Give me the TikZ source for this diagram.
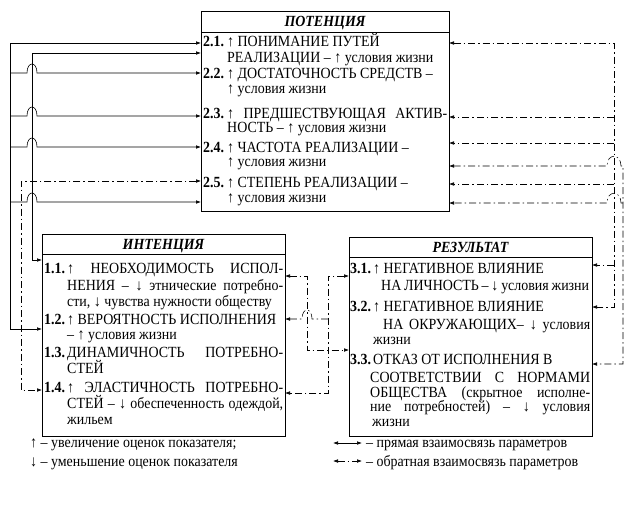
\documentclass[tikz,border=0pt]{standalone}
\usepackage{fontspec}
\setmainfont{Liberation Serif}[FakeStretch=0.9]
\usetikzlibrary{arrows.meta}
\tikzset{
  >={Latex[length=5pt,width=3.6pt]},
  boxframe/.style={draw, line width=0.7pt, inner sep=0pt, outer sep=0pt, anchor=north west},
  tl/.style={anchor=base west, inner sep=0pt, font=\fontsize{15.5}{16}\selectfont},
  nm/.style={anchor=base west, inner sep=0pt, font=\fontsize{15.5}{16}\selectfont\bfseries},
  hd/.style={anchor=base, inner sep=0pt, font=\fontsize{15.5}{16}\selectfont\bfseries\itshape},
  sl/.style={line width=0.6pt},
  dl/.style={line width=0.55pt, dash pattern=on 7pt off 3pt on 1.5pt off 3pt},
}
\newcommand{\jl}[2]{\makebox[#1pt][s]{#2}}
\begin{document}
\begin{tikzpicture}[x=1pt,y=-1pt]
\useasboundingbox (0,0) rectangle (637,504);
% boxes
\node[boxframe, minimum width=248pt, minimum height=200pt] (pot) at (201,11) {};
\node[boxframe, minimum width=243pt, minimum height=202pt] (int) at (42,234) {};
\node[boxframe, minimum width=243pt, minimum height=199pt] (res) at (349,237) {};
\draw[line width=0.7pt] (201,32) -- (449,32);
\draw[line width=0.7pt] (42,254) -- (285,254);
\draw[line width=0.7pt] (349,257) -- (592,257);
% headers
\node[hd] (hpot) at (325,26.5) {ПОТЕНЦИЯ};
\node[hd] (hint) at (163.5,249.5) {ИНТЕНЦИЯ};
\node[hd] (hres) at (470.5,252.5) {РЕЗУЛЬТАТ};
% ПОТЕНЦИЯ
\node[nm] (n21) at (203,46) {2.1.};
\node[tl] (t21a) at (227,46) {↑ ПОНИМАНИЕ ПУТЕЙ};
\node[tl] (t21b) at (227,62) {РЕАЛИЗАЦИИ – ↑ условия жизни};
\node[nm] (n22) at (203,78) {2.2.};
\node[tl] (t22a) at (227,78) {↑ ДОСТАТОЧНОСТЬ СРЕДСТВ –};
\node[tl] (t22b) at (227,93) {↑ условия жизни};
\node[nm] (n23) at (203,118) {2.3.};
\node[tl] (t23a) at (227,118) {\jl{220}{↑ ПРЕДШЕСТВУЮЩАЯ АКТИВ-}};
\node[tl] (t23b) at (227,132) {НОСТЬ – ↑ условия жизни};
\node[nm] (n24) at (203,152) {2.4.};
\node[tl] (t24a) at (227,152) {↑ ЧАСТОТА РЕАЛИЗАЦИИ –};
\node[tl] (t24b) at (227,166) {↑ условия жизни};
\node[nm] (n25) at (203,187) {2.5.};
\node[tl] (t25a) at (227,187) {↑ СТЕПЕНЬ РЕАЛИЗАЦИИ –};
\node[tl] (t25b) at (227,202) {↑ условия жизни};
% ИНТЕНЦИЯ
\node[nm] (n11) at (44,273) {1.1.};
\node[tl] (t11a) at (67,273) {\jl{216}{↑ НЕОБХОДИМОСТЬ ИСПОЛ-}};
\node[tl] (t11b) at (67,290) {\jl{216}{НЕНИЯ – ↓ этнические потребно-}};
\node[tl] (t11c) at (67,306) {сти, ↓ чувства нужности обществу};
\node[nm] (n12) at (44,324) {1.2.};
\node[tl] (t12a) at (67,324) {↑ ВЕРОЯТНОСТЬ ИСПОЛНЕНИЯ};
\node[tl] (t12b) at (67,339) {– ↑ условия жизни};
\node[nm] (n13) at (44,357) {1.3.};
\node[tl] (t13a) at (67,357) {\jl{216}{ДИНАМИЧНОСТЬ ПОТРЕБНО-}};
\node[tl] (t13b) at (67,373) {СТЕЙ};
\node[nm] (n14) at (44,392) {1.4.};
\node[tl] (t14a) at (67,392) {\jl{216}{↑ ЭЛАСТИЧНОСТЬ ПОТРЕБНО-}};
\node[tl] (t14b) at (67,408) {\jl{216}{СТЕЙ – ↓ обеспеченность одеждой,}};
\node[tl] (t14c) at (67,424) {жильем};
% РЕЗУЛЬТАТ
\node[nm] (n31) at (350,273) {3.1.};
\node[tl] (t31a) at (373,273) {↑ НЕГАТИВНОЕ ВЛИЯНИЕ};
\node[tl] (t31b) at (381,290) {\jl{208}{НА ЛИЧНОСТЬ – ↓ условия жизни}};
\node[nm] (n32) at (350,311) {3.2.};
\node[tl] (t32a) at (373,311) {↑ НЕГАТИВНОЕ ВЛИЯНИЕ};
\node[tl] (t32b) at (383,329) {\jl{207}{НА ОКРУЖАЮЩИХ– ↓ условия}};
\node[tl] (t32c) at (373,344) {жизни};
\node[nm] (n33) at (350,364) {3.3.};
\node[tl] (t33a) at (373,364) {ОТКАЗ ОТ ИСПОЛНЕНИЯ В};
\node[tl] (t33b) at (370,382) {\jl{220}{СООТВЕТСТВИИ С НОРМАМИ}};
\node[tl] (t33c) at (370,397) {\jl{220}{ОБЩЕСТВА (скрытное исполне-}};
\node[tl] (t33d) at (370,411) {\jl{220}{ние потребностей) – ↓ условия}};
\node[tl] (t33e) at (372,426) {жизни};
% connection points
\coordinate (pL1) at (201,43); \coordinate (pL2) at (201,53); \coordinate (pL3) at (201,73);
\coordinate (pL4) at (201,116); \coordinate (pL5) at (201,147); \coordinate (pL6) at (201,181);
\coordinate (pL7) at (201,202);
\coordinate (pR1) at (449,43); \coordinate (pR2) at (449,117); \coordinate (pR3) at (449,143);
\coordinate (pR4) at (449,166); \coordinate (pR5) at (449,184); \coordinate (pR6) at (449,203);
\coordinate (iL1) at (42,260); \coordinate (iL2) at (42,329); \coordinate (iL4) at (42,390);
\coordinate (iR1) at (285,276); \coordinate (iR2) at (285,319); \coordinate (iR4) at (285,393);
\coordinate (rL1) at (349,276); \coordinate (rL3) at (349,350);
\coordinate (rR1) at (592,265); \coordinate (rR2) at (592,307); \coordinate (rR3) at (592,364);
% left solid connectors
\draw[sl,<->] (pL1) -- (10,43) -- (10,329) -- (iL2);
\draw[sl,<->] (pL2) -- (32,53) -- (32,260) -- (iL1);
\draw[sl,->] (10,73) -- (27,73) .. controls (27,61) and (37,61) .. (37,73) -- (pL3);
\draw[sl,->] (10,116) -- (27,116) .. controls (27,104) and (37,104) .. (37,116) -- (pL4);
\draw[sl,->] (10,147) -- (27,147) .. controls (27,135) and (37,135) .. (37,147) -- (pL5);
\draw[sl,->] (10,202) -- (27,202) .. controls (27,190) and (37,190) .. (37,202) -- (pL7);
\draw[dl,<->] (pL6) -- (21,181) -- (21,390) -- (iL4);
% right dash-dot connectors
\draw[dl,<->] (pR1) -- (614,43) -- (614,307) -- (rR2);
\draw[dl,->] (614,117) -- (pR2);
\draw[dl,->] (614,143) -- (pR3);
\draw[dl,->] (614,184) -- (pR5);
\draw[dl,->] (614,265) -- (rR1);
\draw[dl,<->] (pR4) -- (607,166) .. controls (607,153) and (621,153) .. (621,166) -- (623,166) -- (623,364) -- (rR3);
\draw[dl,->] (623,203) -- (621,203) .. controls (621,190) and (607,190) .. (607,203) -- (pR6);
% middle dash-dot connectors
\draw[dl,<->] (iR1) -- (307,276) -- (307,350) -- (rL3);
\draw[dl,<->] (rL1) -- (328,276) -- (328,393) -- (iR4);
\draw[dl,->] (328,319) -- (312,319) .. controls (312,307) and (302,307) .. (302,319) -- (iR2);
% legend
\node[tl] (lg1) at (30,447) {↑ – увеличение оценок показателя;};
\node[tl] (lg2) at (30,466) {↓ – уменьшение оценок показателя};
\node[tl] (lg3) at (366,447) {– прямая взаимосвязь параметров};
\node[tl] (lg4) at (366,466) {– обратная взаимосвязь параметров};
\coordinate (la1) at (333,443); \coordinate (la2) at (362,443);
\coordinate (lb1) at (333,461); \coordinate (lb2) at (362,461);
\draw[sl,<->] (la1) -- (la2);
\draw[dl,<->] (lb1) -- (lb2);
\end{tikzpicture}
\end{document}
